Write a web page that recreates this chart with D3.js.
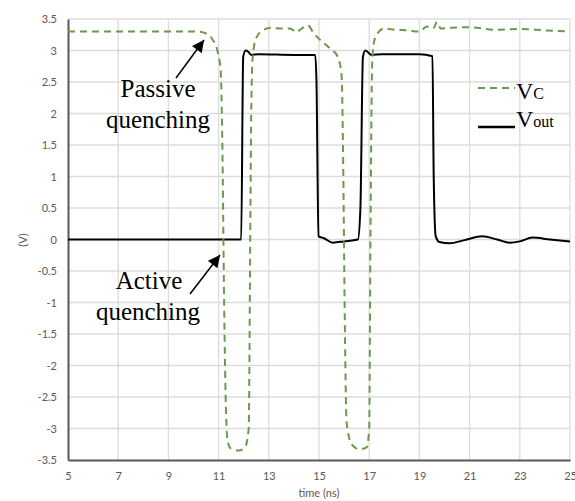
<!DOCTYPE html>
<html lang="en">
<head>
    <meta charset="UTF-8">
    <title>Quenching</title>
    <script src="https://d3js.org/d3.v7.min.js"></script>
    <style>
        body { margin: 0; background: #fff; }
        .tick text { font-family: Lato, "Open Sans", sans-serif; font-size: 11px; fill: #595959; }
        .grid line { stroke: #dcdcdc; stroke-width: 1.3; }
        .note { font-family: "Liberation Serif", "Times New Roman", serif; font-size: 25px; fill: #000; }
    </style>
</head>
<body>
<script>
    // V_C (dashed green) samples: time (ns), volts
    var vcTime = [5, 10.2, 10.5, 10.75, 10.95, 11.08, 11.15, 11.22, 11.3, 11.37, 11.5, 11.8, 12.05, 12.2, 12.26, 12.3, 12.36, 12.5, 12.8, 13.1, 13.5, 13.85, 14.1, 14.25, 14.55, 14.8, 15.1, 15.45, 15.75, 15.9, 15.97, 16.02, 16.1, 16.3, 16.6, 16.9, 17.0, 17.05, 17.12, 17.2, 17.35, 17.6, 18.0, 18.5, 19.0, 19.3, 19.55, 19.7, 19.85, 20.2, 21, 22, 23, 24, 25];
    var vcVolt = [3.3, 3.3, 3.27, 3.18, 3.0, 2.7, 1.5, -1, -2.8, -3.22, -3.32, -3.35, -3.3, -3.0, 0, 2.0, 2.9, 3.2, 3.33, 3.36, 3.35, 3.35, 3.29, 3.33, 3.4, 3.27, 3.15, 3.03, 2.9, 2.6, 1, -1, -2.9, -3.25, -3.33, -3.3, -3.0, 0, 2.8, 3.15, 3.28, 3.35, 3.33, 3.32, 3.3, 3.38, 3.35, 3.45, 3.35, 3.36, 3.37, 3.33, 3.34, 3.32, 3.3];

    // V_out (solid black) samples
    var voutTime = [5, 11.9, 11.98, 12.08, 12.18, 12.3, 12.6, 14.0, 14.85, 14.9, 14.98, 15.2, 15.55, 16.0, 16.55, 16.65, 16.75, 16.85, 17.1, 17.5, 19.0, 19.52, 19.57, 19.65, 19.8, 20.2, 20.8, 21.5, 22.1, 22.6, 23.0, 23.5, 24.2, 25];
    var voutVolt = [0, 0, 2.9, 3.0, 2.98, 2.93, 2.94, 2.93, 2.93, 2.5, 0.05, 0.02, -0.05, -0.03, 0.0, 0.5, 2.9, 3.0, 2.93, 2.94, 2.94, 2.91, 1, 0.05, -0.04, -0.06, -0.01, 0.05, 0.0, -0.05, -0.03, 0.03, 0.0, -0.03];

    var xTicks = [5, 7, 9, 11, 13, 15, 17, 19, 21, 23, 25];
    var yTicks = [-3.5, -3, -2.5, -2, -1.5, -1, -0.5, 0, 0.5, 1, 1.5, 2, 2.5, 3, 3.5];

    var W = 575, H = 501;
    var plotL = 68, plotR = 570, plotT = 19, plotB = 460;

    var svg = d3.select("body").append("svg").attr("width", W).attr("height", H);

    var x = d3.scaleLinear().domain([5, 25]).range([plotL, plotR]);
    var y = d3.scaleLinear().domain([-3.5, 3.5]).range([plotB, plotT]);

    // grid
    svg.append("g").attr("class", "grid")
        .selectAll("line").data(xTicks.slice(1)).enter().append("line")
        .attr("x1", function (d) { return x(d); }).attr("x2", function (d) { return x(d); })
        .attr("y1", plotT).attr("y2", plotB);
    svg.append("g").attr("class", "grid")
        .selectAll("line").data(yTicks.slice(1)).enter().append("line")
        .attr("x1", plotL).attr("x2", plotR)
        .attr("y1", function (d) { return y(d); }).attr("y2", function (d) { return y(d); });

    // axes
    var xAxis = svg.append("g").attr("transform", "translate(0," + plotB + ")")
        .call(d3.axisBottom(x).tickValues(xTicks).tickSize(0).tickPadding(12).tickFormat(d3.format("d")));
    xAxis.select(".domain").attr("stroke", "#595959").attr("stroke-width", 2);

    var yAxis = svg.append("g").attr("transform", "translate(" + plotL + ",0)")
        .call(d3.axisLeft(y).tickValues(yTicks).tickSize(0).tickPadding(11).tickFormat(function (d) { return String(d); }));
    yAxis.select(".domain").attr("stroke", "#595959").attr("stroke-width", 2);

    svg.append("text").attr("transform", "translate(23,240) rotate(-90)")
        .attr("text-anchor", "middle").attr("dy", "0.35em")
        .style("font-family", "Lato, sans-serif").style("font-size", "11px").style("fill", "#595959")
        .text("(V)");
    svg.append("text").attr("x", 319).attr("y", 497).attr("text-anchor", "middle")
        .style("font-family", "Lato, sans-serif").style("font-size", "11px").style("fill", "#595959")
        .text("time (ns)");

    var line = d3.line()
        .x(function (d) { return x(d[0]); })
        .y(function (d) { return y(d[1]); })
        .curve(d3.curveMonotoneX);

    var vc = d3.zip(vcTime, vcVolt);
    var vout = d3.zip(voutTime, voutVolt);

    svg.append("path").datum(vout).attr("d", line)
        .attr("fill", "none").attr("stroke", "#000").attr("stroke-width", 2);
    svg.append("path").datum(vc).attr("d", line)
        .attr("fill", "none").attr("stroke", "#6b9a4c").attr("stroke-width", 2)
        .attr("stroke-dasharray", "7,5");

    // legend
    svg.append("line").attr("x1", 478).attr("x2", 515).attr("y1", 88).attr("y2", 88)
        .attr("stroke", "#6b9a4c").attr("stroke-width", 2).attr("stroke-dasharray", "7,5");
    svg.append("line").attr("x1", 478).attr("x2", 515).attr("y1", 127).attr("y2", 127)
        .attr("stroke", "#000").attr("stroke-width", 2.5);
    var t1 = svg.append("text").attr("class", "note").attr("x", 516).attr("y", 99).style("font-size", "24px");
    t1.append("tspan").text("V");
    t1.append("tspan").style("font-size", "16px").text("C");
    var t2 = svg.append("text").attr("class", "note").attr("x", 516).attr("y", 127).style("font-size", "24px");
    t2.append("tspan").text("V");
    t2.append("tspan").style("font-size", "16px").text("out");

    // annotations
    var notes = [
        { txt: "Passive", x: 158, y: 97 },
        { txt: "quenching", x: 158, y: 128 },
        { txt: "Active", x: 149, y: 289 },
        { txt: "quenching", x: 148, y: 320 }
    ];
    svg.selectAll("text.note-lbl").data(notes).enter().append("text")
        .attr("class", "note").attr("text-anchor", "middle")
        .attr("x", function (d) { return d.x; }).attr("y", function (d) { return d.y; })
        .text(function (d) { return d.txt; });

    svg.append("defs").append("marker").attr("id", "ah")
        .attr("viewBox", "0 0 10 10").attr("refX", 10).attr("refY", 5)
        .attr("markerWidth", 14).attr("markerHeight", 12).attr("markerUnits", "userSpaceOnUse")
        .attr("orient", "auto")
        .append("path").attr("d", "M0,0L10,5L0,10Z").attr("fill", "#000");

    svg.append("line").attr("x1", 176).attr("y1", 78).attr("x2", 204).attr("y2", 40)
        .attr("stroke", "#000").attr("stroke-width", 1.5).attr("marker-end", "url(#ah)");
    svg.append("line").attr("x1", 190).attr("y1", 294).attr("x2", 220).attr("y2", 255)
        .attr("stroke", "#000").attr("stroke-width", 1.5).attr("marker-end", "url(#ah)");
</script>
</body>
</html>
